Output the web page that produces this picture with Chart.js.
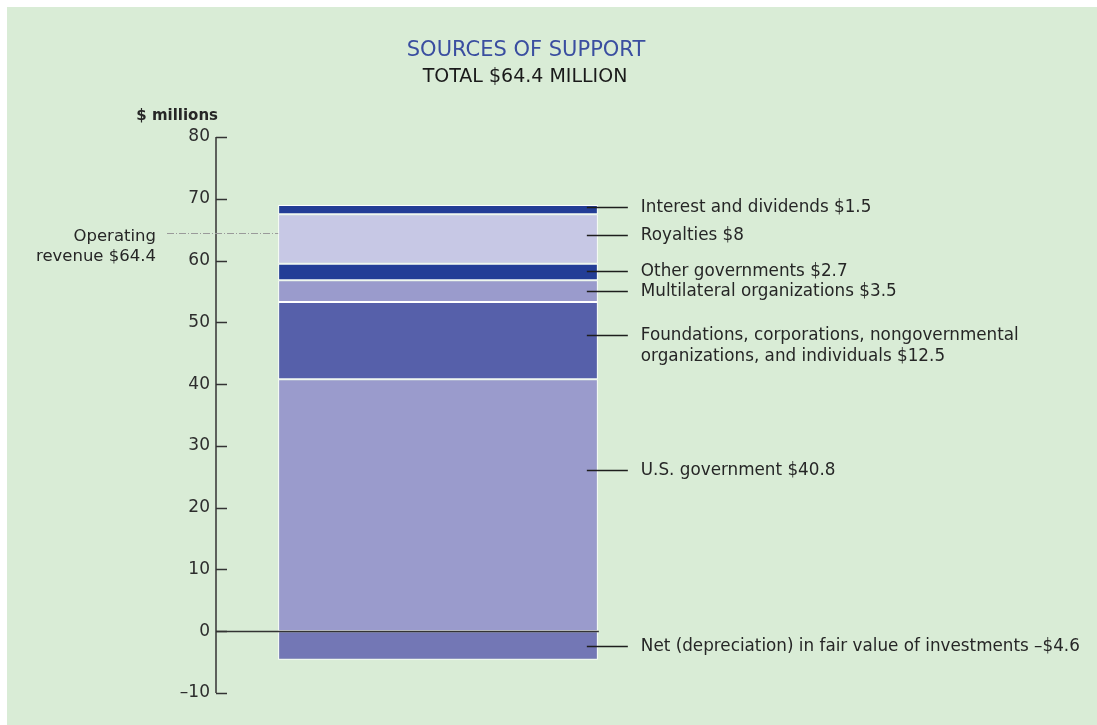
<!DOCTYPE html>
<html><head><meta charset="utf-8">
<script src="https://cdn.jsdelivr.net/npm/chart.js@4.4.1/dist/chart.umd.min.js"></script>
<style>
html,body{margin:0;padding:0;background:#fff;}
#wrap{position:absolute;left:0;top:0;width:1097px;height:725px;}
</style>
</head><body>
<div id="wrap"><canvas id="c" width="1097" height="725"></canvas></div>
<script>
// ---- data ----
const categories = ['Sources of support'];
const seriesNames = [
  'U.S. government',
  'Foundations, corporations, nongovernmental organizations, and individuals',
  'Multilateral organizations',
  'Other governments',
  'Royalties',
  'Interest and dividends',
  'Net (depreciation) in fair value of investments'
];
const seriesValues = [40.8, 12.5, 3.5, 2.7, 8, 1.5, -4.6];
const seriesLabelLines = [
  ['U.S. government $40.8'],
  ['Foundations, corporations, nongovernmental', 'organizations, and individuals $12.5'],
  ['Multilateral organizations $3.5'],
  ['Other governments $2.7'],
  ['Royalties $8'],
  ['Interest and dividends $1.5'],
  ['Net (depreciation) in fair value of investments \u2013$4.6']
];
const labelAnchorValues = [26.1, 47.9, 55.0, 58.3, 64.1, 68.6, -2.4];
const seriesColors = ['#9a9bcc', '#5660aa', '#9a9bcc', '#233d96', '#c7c8e5', '#233d96', '#7377b5'];
const tickValues = [-10, 0, 10, 20, 30, 40, 50, 60, 70, 80];
const operatingRevenue = 64.4;
const titleText = 'SOURCES OF SUPPORT';
const subtitleText = 'TOTAL $64.4 MILLION';
const unitText = '$ millions';
const operatingLines = ['Operating', 'revenue $64.4'];

const FONT = '"DejaVu Sans", "Liberation Sans", sans-serif';
const TEXT = '#262626';
const AXIS_X = 216;

const overlay = {
  id: 'overlay',
  beforeDraw(chart) {
    const ctx = chart.ctx;
    ctx.save();
    ctx.fillStyle = '#ffffff';
    ctx.fillRect(0, 0, chart.width, chart.height);
    ctx.fillStyle = '#d9ecd6';
    ctx.fillRect(7, 7, chart.width - 7, chart.height - 7);
    ctx.restore();
  },
  afterDatasetsDraw(chart) {
    const ctx = chart.ctx;
    const y = chart.scales.y;
    const el = chart.getDatasetMeta(0).data[0];
    const barL = el.x - el.width / 2;
    const barR = el.x + el.width / 2;
    ctx.save();
    // axis
    ctx.strokeStyle = '#333';
    ctx.lineWidth = 1.5;
    ctx.beginPath();
    ctx.moveTo(AXIS_X, y.getPixelForValue(tickValues[tickValues.length - 1]));
    ctx.lineTo(AXIS_X, y.getPixelForValue(tickValues[0]));
    ctx.stroke();
    tickValues.forEach(v => {
      const py = Math.round(y.getPixelForValue(v)) + 0.5;
      ctx.beginPath();
      ctx.moveTo(AXIS_X, py);
      ctx.lineTo(AXIS_X + 11, py);
      ctx.stroke();
    });
    // zero line
    const y0 = Math.round(y.getPixelForValue(0)) + 0.5;
    ctx.beginPath();
    ctx.moveTo(AXIS_X, y0);
    ctx.lineTo(barR + 1, y0);
    ctx.stroke();
    // leader lines and labels
    ctx.lineWidth = 1.3;
    ctx.strokeStyle = '#1e1e1e';
    ctx.fillStyle = TEXT;
    ctx.font = '16.8px ' + FONT;
    ctx.textAlign = 'left';
    ctx.textBaseline = 'middle';
    seriesLabelLines.forEach((lines, i) => {
      const py = Math.round(y.getPixelForValue(labelAnchorValues[i])) + 0.5;
      ctx.beginPath();
      ctx.moveTo(barR - 11, py);
      ctx.lineTo(barR + 30, py);
      ctx.stroke();
      lines.forEach((t, k) => ctx.fillText(t, barR + 43, py + k * 21));
    });
    // operating revenue
    const yo = Math.round(y.getPixelForValue(operatingRevenue)) + 0.5;
    ctx.strokeStyle = '#9a9a9a';
    ctx.lineWidth = 1;
    ctx.setLineDash([7, 2, 1, 2]);
    ctx.beginPath();
    ctx.moveTo(167, yo);
    ctx.lineTo(barL, yo);
    ctx.stroke();
    ctx.setLineDash([]);
    ctx.textAlign = 'right';
    ctx.font = '16.5px ' + FONT;
    operatingLines.forEach((t, k) => ctx.fillText(t, 156, yo + 3 + k * 20));
    // titles
    ctx.textAlign = 'center';
    ctx.textBaseline = 'alphabetic';
    ctx.fillStyle = '#3a4ea0';
    ctx.font = '21px ' + FONT;
    ctx.fillText(titleText, 526, 56);
    ctx.fillStyle = '#1a1a1a';
    ctx.font = '19px ' + FONT;
    ctx.fillText(subtitleText, 525, 82);
    ctx.textAlign = 'right';
    ctx.font = 'bold 15px ' + FONT;
    ctx.fillStyle = '#262626';
    ctx.fillText(unitText, 218, 120);
    ctx.restore();
  }
};

new Chart(document.getElementById('c'), {
  type: 'bar',
  data: {
    labels: categories,
    datasets: seriesValues.map((v, i) => ({
      label: seriesNames[i],
      data: [v],
      backgroundColor: seriesColors[i],
      borderColor: '#ffffff',
      borderWidth: 1,
      borderSkipped: false,
      barPercentage: 1,
      categoryPercentage: 0.72
    }))
  },
  options: {
    responsive: false,
    animation: false,
    devicePixelRatio: 1,
    layout: { padding: { left: 0, right: 437, top: 137, bottom: 32 } },
    plugins: { legend: { display: false }, tooltip: { enabled: false }, title: { display: false } },
    scales: {
      x: { stacked: true, display: false },
      y: {
        stacked: true,
        min: -10, max: 80,
        afterFit(s) { s.width = AXIS_X; },
        afterBuildTicks(s) { s.ticks = tickValues.map(v => ({ value: v })); },
        grid: { display: false, drawTicks: false },
        border: { display: false },
        ticks: {
          padding: 6,
          color: '#2d2d2d',
          font: { family: FONT, size: 17 },
          callback: v => v < 0 ? '\u2013' + Math.abs(v) : String(v)
        }
      }
    }
  },
  plugins: [overlay]
});
</script>
</body></html>
